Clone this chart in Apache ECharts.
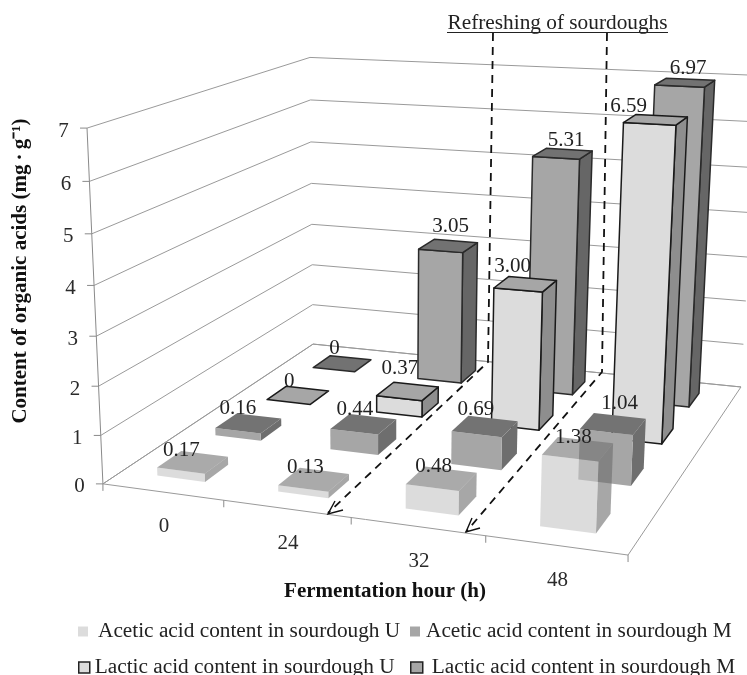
<!DOCTYPE html>
<html><head><meta charset="utf-8">
<style>html,body{margin:0;padding:0;background:#fff}#c{width:747px;height:675px}</style>
<script src="https://cdn.jsdelivr.net/npm/echarts@6/dist/echarts.min.js"></script>
</head><body><div id="c"></div>
<script>
// ---- data ----
var hours = ['0', '24', '32', '48'];
var yTicks = [0, 1, 2, 3, 4, 5, 6, 7];
var aceticU = [0.17, 0.13, 0.48, 1.38];
var aceticM = [0.16, 0.44, 0.69, 1.04];
var lacticU = [0, 0.37, 3.00, 6.59];
var lacticM = [0, 3.05, 5.31, 6.97];
var labelsU = ['0.17', '0.13', '0.48', '1.38'];
var labelsM = ['0.16', '0.44', '0.69', '1.04'];
var labelsLU = ['0', '0.37', '3.00', '6.59'];
var labelsLM = ['0', '3.05', '5.31', '6.97'];
var names = ['Acetic acid content in sourdough U', 'Acetic acid content in sourdough M',
             'Lactic acid content in sourdough U', 'Lactic acid content in sourdough M'];

// ---- layout / projection ----
var FONT = '"Liberation Serif","Times New Roman",serif';
var GRID = { left: 0, top: 0, width: 400, height: 400 };
var anchors = [ // u, v, w, px, py
  [0,0,0,103,484],[1,0,0,628,555],[0,1,0,313,344],[1,1,0,741,387],[0,0,1,87,128],[0,1,1,310,57.5]
];
function solveProjection() {
  var rows = [], rhs = [];
  anchors.forEach(function (p) {
    var u=p[0],v=p[1],w=p[2],x=p[3],y=p[4];
    rows.push([u,v,w,1,0,0,0,0,-x*u,-x*v,-x*w]); rhs.push(x);
    rows.push([0,0,0,0,u,v,w,1,-y*u,-y*v,-y*w]); rhs.push(y);
  });
  var n = 11, M = [];
  for (var i=0;i<n;i++){ M[i]=[]; for (var j=0;j<n;j++){ var s=0; rows.forEach(function(r){s+=r[i]*r[j];}); M[i][j]=s; }
    var t=0; rows.forEach(function(r,k){t+=r[i]*rhs[k];}); M[i][n]=t; }
  for (var c=0;c<n;c++){ var b=c; for (var r=c+1;r<n;r++) if(Math.abs(M[r][c])>Math.abs(M[b][c])) b=r;
    var tmp=M[c];M[c]=M[b];M[b]=tmp;
    for (r=0;r<n;r++) if(r!==c){ var f=M[r][c]/M[c][c]; for (j=c;j<=n;j++) M[r][j]-=f*M[c][j]; } }
  return M.map(function(row,i){return row[n]/row[i];});
}
var H = solveProjection();
function proj(u,v,w){
  var d=H[8]*u+H[9]*v+H[10]*w+1;
  return [(H[0]*u+H[1]*v+H[2]*w+H[3])/d,(H[4]*u+H[5]*v+H[6]*w+H[7])/d];
}
function norm(api,cat,val){
  var c=api.coord([cat,val]);
  return [(c[0]-GRID.left)/GRID.width,(GRID.top+GRID.height-c[1])/GRID.height];
}
var BAR_U = 0.05, BAR_V = 0.05;   // half-sizes of a bar on the floor
var styles = [
  {front:'#c5c5c5',top:'#717171',side:'#6d6d6d',opacity:0.6,line:null},
  {front:'#a6a6a6',top:'#737373',side:'#6e6e6e',opacity:1,line:null},
  {front:'#dcdcdc',top:'#a6a6a6',side:'#8e8e8e',opacity:1,line:'#1a1a1a'},
  {front:'#a6a6a6',top:'#727272',side:'#666666',opacity:1,line:'#2a2a2a'}
];
function barRender(row){
  return function(params,api){
    var n=norm(api,api.value(0),api.value(1));
    var uc=n[0], w=n[1], vc=(row+0.5)/4;
    var u0=uc-BAR_U,u1=uc+BAR_U,v0=vc-BAR_V,v1=vc+BAR_V;
    var st=styles[row];
    function face(pts,fill){
      return {type:'polygon',shape:{points:pts},style:{fill:fill,opacity:st.opacity,
        stroke:st.line||null,lineWidth:st.line?1.5:0,lineJoin:'round'}};
    }
    var kids=[];
    if(w>0){
      kids.push(face([proj(u1,v0,0),proj(u1,v1,0),proj(u1,v1,w),proj(u1,v0,w)],st.side));
      kids.push(face([proj(u0,v0,0),proj(u1,v0,0),proj(u1,v0,w),proj(u0,v0,w)],st.front));
    }
    kids.push(face([proj(u0,v0,w),proj(u1,v0,w),proj(u1,v1,w),proj(u0,v1,w)],st.top));
    return {type:'group',children:kids};
  };
}
function barSeries(i,vals){
  return {type:'custom',name:names[i],z:10-i,silent:true,coordinateSystem:'cartesian2d',
    itemStyle:{color:['#dcdcdc','#a6a6a6','#dcdcdc','#a6a6a6'][i]},
    renderItem:barRender(i),encode:{x:0,y:1},
    data:vals.map(function(v,k){return [k,v];})};
}
// label nudges in px from the centre of each bar's rear top edge
var nudge = [
  [[-23,-3],[-19,-3],[-17,-3],[-12,-3]],
  [[-21,-8],[-18,-7],[-17,-9],[0,-12]],
  [[-18,-7],[-16,-16],[-20,-12],[-33,-9]],
  [[-16,-9],[-5,-15],[-3,-9],[-2,-11]]
];
var labelSets=[labelsU,labelsM,labelsLU,labelsLM];
var valueSets=[aceticU,aceticM,lacticU,lacticM];
var labelData=[];
valueSets.forEach(function(vals,r){vals.forEach(function(v,k){labelData.push([k,v,r,labelSets[r][k]]);});});

var option={
  animation:false,backgroundColor:'#fff',
  grid:{left:GRID.left,top:GRID.top,width:GRID.width,height:GRID.height,show:false},
  xAxis:{type:'category',data:hours,show:false},
  yAxis:{type:'value',min:0,max:7,interval:1,show:false},
  legend:[0,1,2,3].map(function(i){
    var pos=[[78,621],[410,621],[78,657],[410,657]][i];
    var pad=[5,1,0,4][i];
    return {left:pos[0],top:pos[1],padding:0,itemWidth:[10,10,11,12][i],itemHeight:[10,10,11,11][i],
      icon:'rect',data:[{name:names[i],itemStyle:i>1?{borderColor:'#222',borderWidth:1.5}:{}}],
      selectedMode:false,
      textStyle:{fontFamily:FONT,fontSize:21.3,color:'#222',padding:[0,0,0,pad]}};
  }),
  series:[
    {type:'custom',name:'frame',z:1,silent:true,
     renderItem:function(params,api){
       var t=api.value(0), w=norm(api,0,t)[1], kids=[];
       var a=proj(0,0,w),b=proj(0,1,w),c=proj(1,1,w);
       kids.push({type:'polyline',shape:{points:[a,b,c]},style:{stroke:'#9a9a9a',lineWidth:1,fill:null}});
       kids.push({type:'line',shape:{x1:a[0]-7,y1:a[1],x2:a[0],y2:a[1]},style:{stroke:'#8a8a8a',lineWidth:1}});
       kids.push({type:'text',style:{text:String(t),x:a[0]-23.5,y:a[1]+3,align:'center',verticalAlign:'middle',
         font:'21px '+FONT,fill:'#2a2a2a'}});
       return {type:'group',children:kids};
     },
     data:yTicks.map(function(t){return [t];})},
    {type:'custom',name:'floor',z:1,silent:true,
     renderItem:function(params,api){
       var i=api.value(0),e=i/4,kids=[];
       var p=proj(e,0,0);
       kids.push({type:'line',shape:{x1:p[0],y1:p[1],x2:p[0],y2:p[1]+7},style:{stroke:'#8a8a8a',lineWidth:1}});
       if(i===0){
         var q=[proj(0,0,0),proj(1,0,0),proj(1,1,0),proj(0,1,0),proj(0,0,0)];
         kids.push({type:'polyline',shape:{points:q},style:{stroke:'#9a9a9a',lineWidth:1,fill:null}});
         var t=proj(0,0,1);
         kids.push({type:'line',shape:{x1:p[0],y1:p[1],x2:t[0],y2:t[1]},style:{stroke:'#8a8a8a',lineWidth:1}});
       }
       if(i<4){
         var m=proj(e+0.125,0,0);
         kids.push({type:'text',style:{text:hours[i],x:m[0]+1.5,y:m[1]+35,align:'center',verticalAlign:'middle',
           font:'21px '+FONT,fill:'#2a2a2a'}});
       }
       return {type:'group',children:kids};
     },
     data:[[0],[1],[2],[3],[4]]},
    barSeries(0,aceticU),barSeries(1,aceticM),barSeries(2,lacticU),barSeries(3,lacticM),
    {type:'custom',name:'values',z:20,silent:true,
     renderItem:function(params,api){
       var k=api.value(0),r=api.value(2);
       var n=norm(api,k,api.value(1));
       var p=proj(n[0],(r+0.5)/4+BAR_V,n[1]);
       var d=nudge[r][k];
       return {type:'text',style:{text:labelData[params.dataIndex][3],x:p[0]+d[0],y:p[1]+d[1],
         align:'center',verticalAlign:'middle',font:'21px '+FONT,fill:'#222'}};
     },
     data:labelData}
  ],
  graphic:{elements:[
    {type:'text',z:30,style:{text:'Fermentation hour (h)',x:385,y:592,align:'center',verticalAlign:'middle',font:'bold 21px '+FONT,fill:'#111'}},
    {type:'text',z:30,rotation:Math.PI/2,x:21,y:271,style:{text:'Content of organic acids (mg\u2009\u00b7\u2009g\u207b\u00b9)',align:'center',verticalAlign:'middle',font:'bold 21px '+FONT,fill:'#111'}},
    {type:'text',z:30,style:{text:'Refreshing of sourdoughs',x:557.5,y:23,align:'center',verticalAlign:'middle',font:'21.3px '+FONT,fill:'#222'}},
    {type:'line',z:30,shape:{x1:447,y1:32.5,x2:668,y2:32.5},style:{stroke:'#222',lineWidth:1}},
    {type:'polyline',z:30,shape:{points:[[493,33],[488,362],[328,513]]},style:{stroke:'#111',lineWidth:1.8,lineDash:[8,6],fill:null}},
    {type:'polyline',z:30,shape:{points:[[607,33],[602,372],[466,532]]},style:{stroke:'#111',lineWidth:1.8,lineDash:[8,6],fill:null}},
    {type:'polyline',z:30,shape:{points:[[343,510],[328,514],[335,501]]},style:{stroke:'#111',lineWidth:1.4,fill:null}},
    {type:'polyline',z:30,shape:{points:[[480,528],[466,532],[472,518]]},style:{stroke:'#111',lineWidth:1.4,fill:null}}
  ]}
};
var chart=echarts.init(document.getElementById('c'),null,{renderer:'canvas'});
chart.setOption(option);
</script></body></html>
